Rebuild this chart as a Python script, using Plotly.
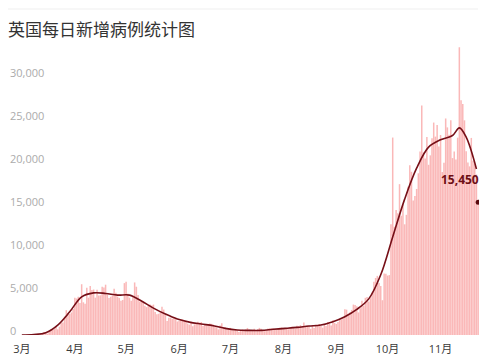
import pandas as pd
import plotly.graph_objects as go

# ---------------- data ----------------
title_text = "英国每日新增病例统计图"
start_date = "2020-03-01"

mar = [13, 4, 11, 34, 30, 48, 43, 67, 48, 54, 87, 134, 208, 342, 251, 152, 407, 676, 643, 714,
       1035, 665, 967, 1427, 1452, 2129, 2885, 2546, 2433, 2619, 3009]
apr = [4324, 4244, 4450, 3735, 5903, 3802, 3634, 5491, 4344, 5706, 5234, 5288, 4342, 5252, 4603,
       4617, 5599, 5525, 5850, 4676, 4301, 4451, 4583, 5386, 4913, 4463, 4309, 3996, 4076, 6032]
may = [6201, 4806, 4339, 3985, 4406, 6111, 5614, 4649, 3896, 3923, 3877, 3403, 3242, 3446, 3560,
       3450, 3534, 2684, 2412, 2472, 2615, 3287, 2959, 2409, 1625, 2004, 2013, 1887, 2095, 1936, 1570]
jun = [1653, 1871, 1805, 1650, 1557, 1326, 1205, 1541, 1003, 1240, 1266, 1541, 1425, 1514, 1056,
       1279, 1115, 1218, 1346, 1295, 1221, 958, 874, 653, 1118, 1380, 890, 901, 815, 689]
jul = [829, 576, 544, 624, 516, 352, 581, 630, 512, 642, 820, 650, 530, 538, 726, 538, 687, 827,
       726, 580, 445, 560, 769, 768, 767, 742, 685, 581, 763, 846, 880]
aug = [744, 743, 762, 670, 892, 950, 871, 758, 1062, 1030, 1148, 1009, 1441, 1012, 1077, 1040,
       713, 1089, 812, 1182, 1033, 1288, 1041, 853, 1184, 1048, 1522, 1276, 1108, 1715, 1406]
sep = [1295, 1508, 1735, 1813, 1940, 2988, 2948, 2460, 2659, 2919, 3539, 3497, 3330, 2621, 3105,
       3991, 3395, 4322, 4422, 3899, 4368, 4926, 6178, 6634, 6874, 6042, 5693, 4044, 7143, 7108]
oct_ = [6914, 6968, 12872, 22961, 12594, 14542, 14162, 17540, 13864, 15166, 12872, 13972, 17234,
        19724, 18980, 15650, 16171, 16982, 18804, 21331, 26688, 21242, 20530, 23012, 19790, 20890,
        22885, 24701, 23065, 24405, 21915]
nov = [23254, 18950, 20018, 25177, 24141, 23287, 24957, 20572, 21350, 20412, 22950, 33470, 27301,
       26860, 24962, 21363, 20051, 19609, 22915, 20252, 19875, 18662, 15450]

daily_cases = mar + apr + may + jun + jul + aug + sep + oct_ + nov

trend_dates = ["2020-03-01", "2020-03-08", "2020-03-15", "2020-03-22", "2020-03-29", "2020-04-05",
               "2020-04-12", "2020-04-19", "2020-04-26", "2020-05-03", "2020-05-10", "2020-05-17",
               "2020-05-24", "2020-05-31", "2020-06-07", "2020-06-14", "2020-06-21", "2020-06-28",
               "2020-07-05", "2020-07-12", "2020-07-19", "2020-07-26", "2020-08-02", "2020-08-09",
               "2020-08-16", "2020-08-23", "2020-08-30", "2020-09-06", "2020-09-13", "2020-09-20",
               "2020-09-27", "2020-10-04", "2020-10-11", "2020-10-18", "2020-10-25", "2020-11-01",
               "2020-11-08", "2020-11-12", "2020-11-16", "2020-11-22"]
trend_values = [0, 50, 270, 1160, 2700, 4440, 4900, 4830, 4640, 4640, 3950, 3130, 2430, 1860, 1500,
                1280, 1080, 770, 580, 540, 540, 660, 770, 890, 1040, 1160, 1550, 2130, 2980, 4200,
                7000, 11400, 15800, 19400, 21840, 22700, 23200, 24080, 23000, 19300]

month_ticks = ["2020-03-01", "2020-04-01", "2020-05-01", "2020-06-01", "2020-07-01",
               "2020-08-01", "2020-09-01", "2020-10-01", "2020-11-01"]
month_labels = ["3月", "4月", "5月", "6月", "7月", "8月", "9月", "10月", "11月"]

y_ticks = [0, 5000, 10000, 15000, 20000, 25000, 30000]
y_labels = ["0", "5,000", "10,000", "15,000", "20,000", "25,000", "30,000"]

# ---------------- figure ----------------
dates = pd.date_range(start_date, periods=len(daily_cases), freq="D")
last_date = dates[-1]
last_value = daily_cases[-1]

fig = go.Figure()
fig.add_trace(go.Bar(
    x=dates, y=daily_cases,
    marker=dict(color="rgba(247,150,150,0.68)", line=dict(width=0)),
    hoverinfo="x+y",
))
fig.add_trace(go.Scatter(
    x=pd.to_datetime(trend_dates), y=trend_values, mode="lines",
    line=dict(color="#760f17", width=1.6, shape="spline", smoothing=1.0),
))
fig.add_trace(go.Scatter(
    x=[last_date], y=[last_value], mode="markers",
    marker=dict(color="#5a0a0f", size=5),
))

fig.add_annotation(
    x=last_date, y=last_value, xref="x", yref="y",
    text="<b>" + f"{last_value:,}" + "</b>", showarrow=False,
    xanchor="right", yanchor="middle", xshift=3, yshift=23,
    font=dict(family="Open Sans, Noto Sans CJK SC", size=12, color="#6e0f16"),
)

# y-axis labels, left aligned at the left edge, sitting just above each level
for v, lab in zip(y_ticks, y_labels):
    fig.add_annotation(
        x=0, xref="paper", y=v, yref="y", text=lab, showarrow=False,
        xanchor="left", yanchor="middle", yshift=5, xshift=-1,
        font=dict(family="Open Sans", size=11, color="#ababab"),
    )

W, H = 500, 360
ml, mr, mt, mb = 9, 21, 34, 25
plot_w = W - ml - mr
plot_h = H - mt - mb

fig.add_shape(
    type="line", xref="paper", yref="paper",
    x0=(8 - ml) / plot_w, x1=(478 - ml) / plot_w,
    y0=(H - mb - 9) / plot_h, y1=(H - mb - 9) / plot_h,
    line=dict(color="#efefef", width=1),
)

fig.update_layout(
    width=W, height=H,
    margin=dict(l=ml, r=mr, t=mt, b=mb, autoexpand=False),
    paper_bgcolor="white", plot_bgcolor="white",
    showlegend=False,
    bargap=0.12,
    title=dict(
        text=title_text, x=8 / W, xanchor="left", y=1 - 30 / H, yanchor="middle",
        font=dict(family="Noto Sans CJK SC", size=17, color="#333333"),
    ),
    xaxis=dict(
        type="date",
        domain=[(21 - ml) / plot_w, 1],
        range=["2020-02-29 12:00", "2020-11-23 12:00"],
        tickvals=month_ticks, ticktext=month_labels,
        ticks="outside", ticklen=4, tickcolor="rgba(0,0,0,0)",
        ticklabeloverflow="allow", automargin=False,
        showgrid=False, showline=False, zeroline=False,
        tickfont=dict(family="Open Sans, Noto Sans CJK SC", size=11, color="#3a3a3a"),
    ),
    yaxis=dict(
        range=[0, 35000], automargin=False,
        showticklabels=False, ticks="", showgrid=False, showline=False, zeroline=False,
    ),
)

fig.write_html("out.html", config={"displayModeBar": False},
               post_script="document.body.style.margin='0px';")
